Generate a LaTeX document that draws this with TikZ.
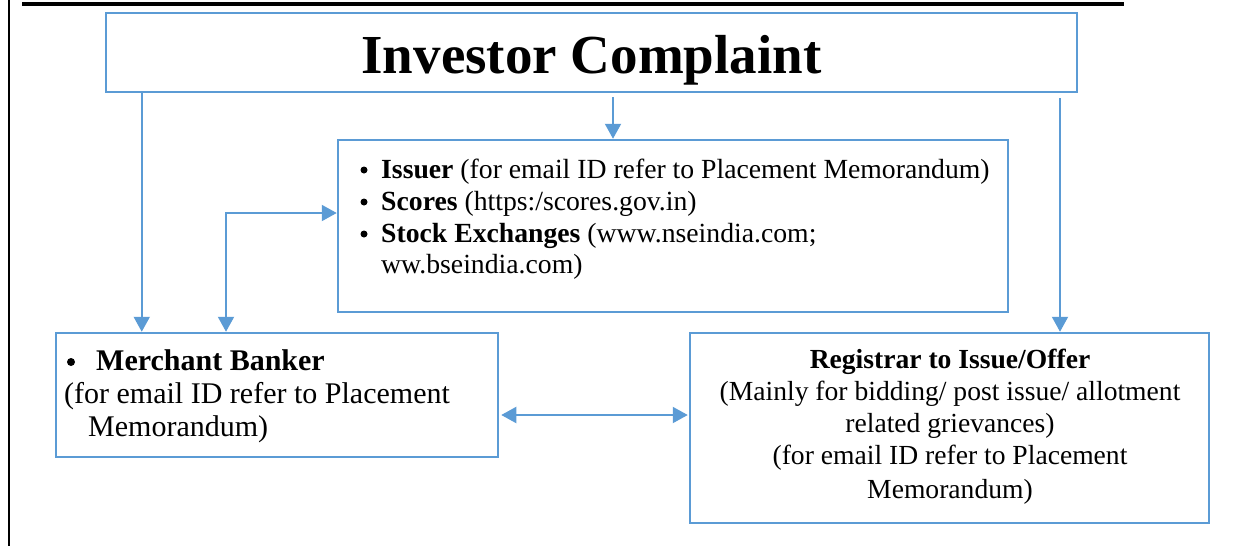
\documentclass[tikz,border=0pt]{standalone}
\usepackage{fontspec}
\setmainfont{Liberation Serif}
\usetikzlibrary{arrows.meta}
\definecolor{blu}{HTML}{5B9BD5}
\begin{document}
\begin{tikzpicture}[x=1pt,y=-1pt,
 box/.style={draw=blu, line width=2.5pt, inner sep=0pt, rectangle},
 conn/.style={draw=blu, line width=2pt, -{Triangle[length=15pt,width=16pt]}},
 conn2/.style={draw=blu, line width=2pt, {Triangle[length=15pt,width=16pt]}-{Triangle[length=15pt,width=16pt]}},
 txt/.style={inner sep=0pt, anchor=base west, font=\fontsize{27.7}{32}\selectfont},
 ctxt/.style={inner sep=0pt, anchor=base, font=\fontsize{27.6}{32}\selectfont},
 mtxt/.style={inner sep=0pt, anchor=base west, font=\fontsize{30}{34}\selectfont},
 bul/.style={circle, fill=black, inner sep=0pt, minimum size=7pt}
]
\useasboundingbox (0,0) rectangle (1233,546);
\draw[line width=2.5pt] (9,0) -- (9,546);
\draw[line width=4pt] (22,4) -- (1124,4);

\node[box, minimum width=971pt, minimum height=79pt] (top) at (591.5,52.5) {};
\node[box, minimum width=670pt, minimum height=172pt] (mid) at (673,226) {};
\node[box, minimum width=442pt, minimum height=124pt] (mb) at (277,395) {};
\node[box, minimum width=519pt, minimum height=190pt] (reg) at (949.5,428) {};

\node[inner sep=0pt, anchor=base, font=\bfseries\fontsize{55}{60}\selectfont] (title) at (591.5,73) {Investor Complaint};

\node[bul] (b1) at (364,170) {};
\node[txt] (l1) at (381,178) {\textbf{Issuer} (for email ID refer to Placement Memorandum)};
\node[bul] (b2) at (364,202) {};
\node[txt] (l2) at (381,210) {\textbf{Scores} (https:/scores.gov.in)};
\node[bul] (b3) at (364,234) {};
\node[txt] (l3) at (381,242) {\textbf{Stock Exchanges} (www.nseindia.com;};
\node[txt] (l4) at (381,273) {ww.bseindia.com)};

\node[bul, minimum size=8pt] (mb0) at (71,362) {};
\node[mtxt] (mb1) at (96,370) {\textbf{Merchant Banker}};
\node[mtxt] (mb2) at (64,403) {(for email ID refer to Placement};
\node[mtxt] (mb3) at (88,436) {Memorandum)};

\node[ctxt] (r1) at (950,368) {\textbf{Registrar to Issue/Offer}};
\node[ctxt] (r2) at (950,400) {(Mainly for bidding/ post issue/ allotment};
\node[ctxt] (r3) at (950,432) {related grievances)};
\node[ctxt] (r4) at (950,464) {(for email ID refer to Placement};
\node[ctxt] (r5) at (950,498) {Memorandum)};

\draw[conn] ([xshift=37pt]top.south west) -- ([xshift=37pt]top.south west |- mb.north);
\draw[conn, shorten <=4pt] ([xshift=-60pt]mid.north |- top.south) -- ([xshift=-60pt]mid.north);
\draw[conn, shorten <=5pt] ([xshift=110.5pt]reg.north |- top.south) -- ([xshift=110.5pt]reg.north);
\draw[conn2] ([xshift=-51pt]mb.north) |- ([yshift=13pt]mid.west);
\draw[conn2, shorten <=2pt, shorten >=1pt] ([yshift=-20pt]mb.east) -- ([yshift=-20pt]mb.east -| reg.west);
\end{tikzpicture}
\end{document}
